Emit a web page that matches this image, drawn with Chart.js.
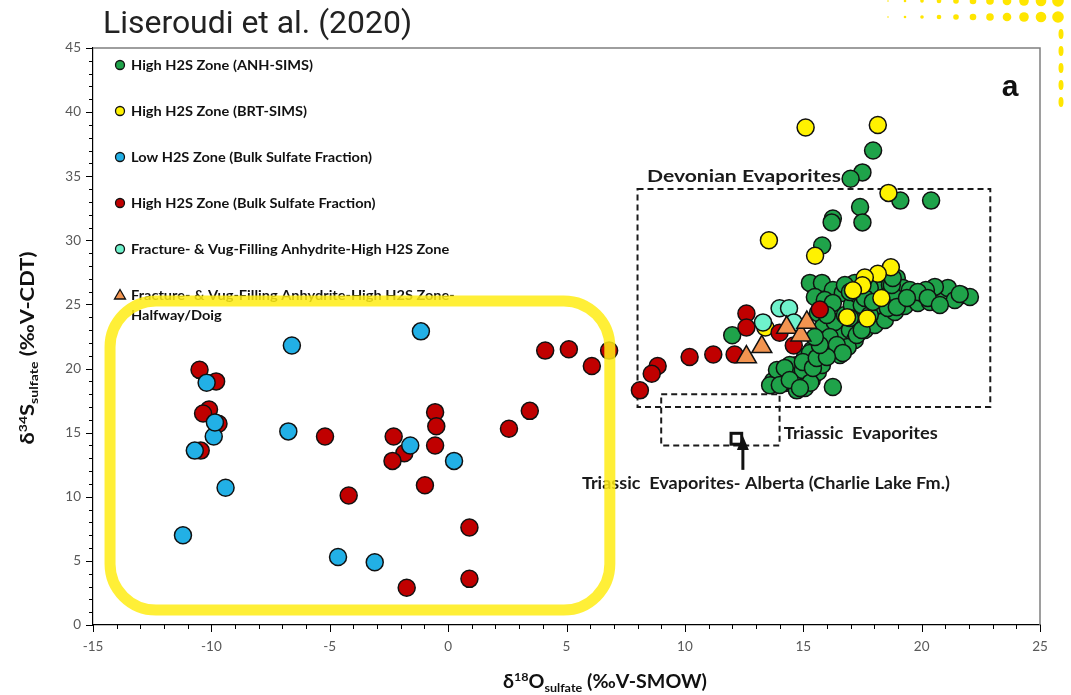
<!DOCTYPE html>
<html>
<head>
<meta charset="utf-8">
<script src="https://cdn.jsdelivr.net/npm/chart.js@4.4.1/dist/chart.umd.min.js"></script>
<style>
  html, body { margin: 0; padding: 0; background: #ffffff; }
  #wrap { position: relative; width: 1071px; height: 695px; }
  canvas { display: block; }
</style>
</head>
<body>
<div id="wrap"><canvas id="chart" width="1071" height="695"></canvas></div>
<script>
// δ18O (x) and δ34S (y) of sulfate, ‰
const anhSimsO18 = [17.95, 17.5, 17.0, 19.1, 20.4, 17.4, 17.5, 16.25, 16.2, 15.8, 12.0,
  13.72, 13.97, 14.22, 14.43, 14.65, 14.86, 15.07, 14.73, 15.19, 15.36, 15.62, 15.49, 15.79,
  16.04, 16.21, 15.91, 16.46, 16.76, 16.55, 16.97, 17.18, 17.39, 17.6, 17.81, 18.02, 18.23,
  18.45, 18.66, 18.87, 19.08, 19.29, 19.59, 19.84, 20.14, 20.35, 20.68, 20.85, 21.11, 21.7,
  22.04, 20.56, 20.18, 15.28, 15.79, 16.25, 16.67, 15.49, 15.91, 15.62, 16.12, 15.83, 16.33,
  16.76, 17.05, 17.31, 15.7, 15.36, 15.07, 16.97, 17.47, 17.9, 18.15, 18.66, 18.95, 19.21,
  19.5, 18.53, 17.81, 17.6, 17.18, 16.76, 18.23, 18.78, 19.84, 21.4, 16.25, 13.89, 14.43,
  14.98, 16.55, 16.88, 13.6, 14.73, 15.3,
  16.97, 16.25, 16.0, 16.12, 16.42, 16.67, 17.26, 17.47, 17.81, 18.57, 18.95, 17.94, 18.74,
  19.38, 20.26, 20.77, 21.61, 18.78, 15.28, 14.98, 14.22, 14.01, 14.43, 15.41, 15.57, 16.0,
  14.86, 15.7, 15.49];
const anhSimsS34 = [37.0, 35.3, 34.8, 33.1, 33.1, 32.6, 31.4, 31.7, 31.4, 29.6, 22.6,
  19.03, 19.27, 18.88, 19.5, 18.72, 19.27, 18.49, 20.28, 19.89, 19.11, 19.73, 20.67, 20.28,
  21.06, 21.84, 22.23, 21.45, 22.23, 22.62, 23.01, 22.23, 23.63, 23.01, 23.95, 23.4, 24.41,
  23.79, 24.96, 24.41, 25.35, 24.88, 25.51, 25.12, 25.74, 25.19, 26.13, 25.35, 26.29, 25.74,
  25.58, 26.37, 26.13, 26.68, 26.68, 26.13, 25.9, 25.58, 25.35, 24.34, 24.57, 23.24, 23.63,
  24.18, 24.96, 25.74, 22.23, 21.45, 20.9, 23.95, 24.96, 25.35, 26.13, 26.52, 27.07, 26.29,
  26.13, 25.58, 26.29, 25.51, 26.68, 26.52, 24.96, 25.74, 25.97, 25.35, 18.56, 19.89, 20.28,
  19.89, 21.06, 21.68, 18.7, 18.3, 18.9,
  25.97, 25.12, 24.18, 22.46, 21.84, 21.22, 22.62, 23.01, 24.18, 24.73, 24.8, 25.2, 26.52,
  25.51, 25.51, 24.96, 25.82, 27.07, 21.22, 20.51, 20.05, 18.72, 19.11, 20.05, 20.83, 20.9,
  18.49, 21.84, 22.46];

const brtSimsO18 = [15.1, 18.15, 13.55, 18.6, 15.5, 18.7, 18.15, 17.6, 17.5, 17.1, 18.3, 16.85, 17.7, 13.4];
const brtSimsS34 = [38.8, 39.0, 30.0, 33.7, 28.8, 27.9, 27.4, 27.1, 26.5, 26.1, 25.5, 24.0, 23.9, 23.2];

const lowBulkO18 = [-6.6, -1.15, -10.2, -9.9, -10.7, -9.85, -9.4, -11.2, -6.75, -4.65, -3.1, -1.6, 0.25];
const lowBulkS34 = [21.8, 22.9, 18.9, 14.7, 13.6, 15.8, 10.7, 7.0, 15.1, 5.3, 4.9, 14.0, 12.8];

const highBulkO18 = [-10.5, -9.8, -10.1, -10.35, -9.7, -10.45, -5.2, -4.2, -2.3, -1.85, -2.35,
  -0.55, -0.5, -0.55, -0.98, 0.9, -1.75, 0.9, 2.57, 3.45, 4.1, 5.1, 6.07, 6.8, 8.1, 8.85, 8.6,
  10.2, 11.2, 12.1, 12.6, 12.6, 15.7, 14.0, 14.6];
const highBulkS34 = [19.9, 19.0, 16.8, 16.5, 15.7, 13.6, 14.7, 10.1, 14.7, 13.4, 12.8,
  16.6, 15.5, 14.0, 10.9, 7.6, 2.9, 3.6, 15.3, 16.7, 21.4, 21.5, 20.2, 21.4, 18.3, 20.2, 19.6,
  20.9, 21.1, 21.1, 24.3, 23.2, 24.6, 22.8, 21.8];

const vugHighO18 = [13.3, 14.0, 14.4, 14.6];
const vugHighS34 = [23.6, 24.7, 24.7, 23.6];

const vugDoigO18 = [12.6, 13.25, 14.3, 14.9, 15.15];
const vugDoigS34 = [20.9, 21.7, 23.2, 22.6, 23.6];

const seriesNames = [
  'High H2S Zone (ANH-SIMS)',
  'High H2S Zone (BRT-SIMS)',
  'Low H2S Zone (Bulk Sulfate Fraction)',
  'High H2S Zone (Bulk Sulfate Fraction)',
  'Fracture- & Vug-Filling Anhydrite-High H2S Zone',
  'Fracture- & Vug-Filling Anhydrite-High H2S Zone-\nHalfway/Doig'
];
const seriesColors = ['#1fa34a', '#fff200', '#22b0e6', '#c00000', '#6ff2cc', '#f29450'];
const seriesShapes = ['circle', 'circle', 'circle', 'circle', 'circle', 'triangle'];

const xTicks = [-15, -10, -5, 0, 5, 10, 15, 20, 25];
const yTicks = [0, 5, 10, 15, 20, 25, 30, 35, 40, 45];

const toPoints = (xs, ys) => xs.map((x, i) => ({ x: x, y: ys[i] }));
const seriesData = [
  toPoints(anhSimsO18, anhSimsS34),
  toPoints(brtSimsO18, brtSimsS34),
  toPoints(lowBulkO18, lowBulkS34),
  toPoints(highBulkO18, highBulkS34),
  toPoints(vugHighO18, vugHighS34),
  toPoints(vugDoigO18, vugDoigS34)
];
// stacking: green lowest, triangles on top
const drawOrder = [5, 4, 2, 3, 1, 0];

const datasets = seriesData.map((pts, i) => ({
  label: seriesNames[i],
  data: pts,
  order: drawOrder[i],
  pointStyle: seriesShapes[i],
  pointRadius: seriesShapes[i] === 'triangle' ? 11.5 : 8.5,
  pointBackgroundColor: seriesColors[i],
  pointBorderColor: '#111111',
  pointBorderWidth: 1.5,
  showLine: false
}));

const FONT = 'Lato, "Open Sans", sans-serif';

// text stretched horizontally to a given width
function fillFitted(ctx, text, x, y, width) {
  const w = ctx.measureText(text).width;
  ctx.save();
  ctx.translate(x, y);
  ctx.scale(width / w, 1);
  ctx.fillText(text, 0, 0);
  ctx.restore();
}

// run of normal / super / sub pieces, centred on 0 and stretched to width
function drawRich(ctx, parts, baseSize, width) {
  let w = 0;
  parts.forEach(p => {
    ctx.font = 'bold ' + (p.size || baseSize) + 'px ' + FONT;
    p.w = ctx.measureText(p.t).width;
    w += p.w;
  });
  ctx.save();
  ctx.scale(width / w, 1);
  let x = -w / 2;
  parts.forEach(p => {
    ctx.font = 'bold ' + (p.size || baseSize) + 'px ' + FONT;
    ctx.fillText(p.t, x, p.dy || 0);
    x += p.w;
  });
  ctx.restore();
}

function roundRectPath(ctx, x0, y0, x1, y1, r) {
  ctx.beginPath();
  ctx.moveTo(x0 + r, y0);
  ctx.lineTo(x1 - r, y0);
  ctx.arcTo(x1, y0, x1, y0 + r, r);
  ctx.lineTo(x1, y1 - r);
  ctx.arcTo(x1, y1, x1 - r, y1, r);
  ctx.lineTo(x0 + r, y1);
  ctx.arcTo(x0, y1, x0, y1 - r, r);
  ctx.lineTo(x0, y0 + r);
  ctx.arcTo(x0, y0, x0 + r, y0, r);
  ctx.closePath();
}

const decorations = {
  id: 'decorations',
  beforeDatasetsDraw(chart) {
    const ctx = chart.ctx, xs = chart.scales.x, ys = chart.scales.y;
    const X = v => xs.getPixelForValue(v), Y = v => ys.getPixelForValue(v);
    ctx.save();
    ctx.strokeStyle = '#1a1a1a';
    ctx.lineWidth = 2;
    ctx.setLineDash([6, 4]);
    // Devonian evaporites field
    ctx.strokeRect(X(8.0), Y(34.0), X(22.9) - X(8.0), Y(17.0) - Y(34.0));
    // Triassic evaporites field
    ctx.strokeRect(X(9.0), Y(18.0), X(14.0) - X(9.0), Y(14.0) - Y(18.0));
    ctx.restore();
  },
  afterDraw(chart) {
    const ctx = chart.ctx, xs = chart.scales.x, ys = chart.scales.y;
    const X = v => xs.getPixelForValue(v), Y = v => ys.getPixelForValue(v);
    const a = chart.chartArea;
    ctx.save();

    // plot frame top / right
    ctx.strokeStyle = '#7f7f7f';
    ctx.lineWidth = 1.5;
    ctx.beginPath();
    ctx.moveTo(a.left, a.top); ctx.lineTo(a.right, a.top); ctx.lineTo(a.right, a.bottom);
    ctx.stroke();

    // minor / major tick marks
    ctx.strokeStyle = '#000000';
    ctx.lineWidth = 1;
    ctx.beginPath();
    for (let v = -15; v <= 25; v++) {
      const px = Math.round(X(v)) + 0.5;
      const len = v % 5 === 0 ? 7 : 4;
      ctx.moveTo(px, a.bottom); ctx.lineTo(px, a.bottom + len);
    }
    for (let v = 0; v <= 45; v++) {
      const py = Math.round(Y(v)) + 0.5;
      const len = v % 5 === 0 ? 7 : 4;
      ctx.moveTo(a.left, py); ctx.lineTo(a.left - len, py);
    }
    ctx.stroke();

    // axis titles
    ctx.fillStyle = '#111111';
    ctx.textBaseline = 'alphabetic';
    ctx.textAlign = 'left';
    ctx.save();
    ctx.translate(605, 688);
    drawRich(ctx, [
      { t: 'δ' }, { t: '18', size: 11.5, dy: -7 }, { t: 'O' }, { t: 'sulfate', size: 11.5, dy: 4 },
      { t: ' (‰V-SMOW)' }
    ], 18, 204);
    ctx.restore();
    ctx.save();
    ctx.translate(34, 348);
    ctx.rotate(-Math.PI / 2);
    drawRich(ctx, [
      { t: 'δ' }, { t: '34', size: 11.5, dy: -7 }, { t: 'S' }, { t: 'sulfate', size: 11.5, dy: 4 },
      { t: ' (‰V-CDT)' }
    ], 18, 193);
    ctx.restore();

    // field labels
    ctx.fillStyle = '#1a1a1a';
    ctx.textBaseline = 'middle';
    ctx.font = 'bold 17px ' + FONT;
    fillFitted(ctx, 'Devonian Evaporites', X(8.4), Y(35.0), 194);
    fillFitted(ctx, 'Triassic  Evaporites', X(14.18), Y(14.9), 154);
    fillFitted(ctx, 'Triassic  Evaporites- Alberta (Charlie Lake Fm.)', X(5.65), Y(11.0), 368);

    // Charlie Lake Fm. marker and pointer
    ctx.strokeStyle = '#111111';
    ctx.lineWidth = 3;
    ctx.setLineDash([]);
    ctx.strokeRect(X(11.95), Y(14.95), X(12.4) - X(11.95), Y(14.1) - Y(14.95));
    ctx.beginPath();
    ctx.moveTo(X(12.45), Y(12.1)); ctx.lineTo(X(12.45), Y(14.0));
    ctx.stroke();
    ctx.fillStyle = '#111111';
    ctx.beginPath();
    ctx.moveTo(X(12.45), Y(14.75));
    ctx.lineTo(X(12.45) - 6, Y(13.65));
    ctx.lineTo(X(12.45) + 6, Y(13.65));
    ctx.closePath();
    ctx.fill();

    // panel letter
    ctx.font = 'bold 30px "Liberation Sans", Arial, sans-serif';
    ctx.textAlign = 'center';
    ctx.fillText('a', 1010, 88);

    // legend
    ctx.textAlign = 'left';
    ctx.font = 'bold 14px ' + FONT;
    const stretch = 182 / ctx.measureText(seriesNames[0]).width;
    const rows = [65, 111, 157, 203, 249, 295];
    seriesNames.forEach((name, i) => {
      const cy = rows[i];
      ctx.fillStyle = seriesColors[i];
      ctx.strokeStyle = '#111111';
      ctx.lineWidth = 1.3;
      ctx.beginPath();
      if (seriesShapes[i] === 'triangle') {
        ctx.moveTo(120, cy - 5.5); ctx.lineTo(125.5, cy + 4); ctx.lineTo(114.5, cy + 4); ctx.closePath();
      } else {
        ctx.arc(120, cy, 4.5, 0, Math.PI * 2);
      }
      ctx.fill(); ctx.stroke();
      ctx.fillStyle = '#111111';
      name.split('\n').forEach((line, k) => {
        fillFitted(ctx, line, 131, cy + k * 20, ctx.measureText(line).width * stretch);
      });
    });

    // highlight frame around the low-δ18O samples
    ctx.strokeStyle = 'rgba(255, 236, 20, 0.85)';
    ctx.lineWidth = 11;
    roundRectPath(ctx, X(-14.28), Y(25.27), X(6.83), Y(1.17), 46);
    ctx.stroke();

    // title
    ctx.fillStyle = '#222222';
    ctx.font = '31px Roboto, sans-serif';
    ctx.textBaseline = 'middle';
    fillFitted(ctx, 'Liseroudi et al. (2020)', 103, 25, 309);

    // corner dot pattern
    ctx.fillStyle = '#ffe600';
    for (let k = 0; k < 11; k++) {
      const dx = 888 + k * 17;
      const r = 0.8 + k * 0.5;
      ctx.beginPath(); ctx.arc(dx, 17, r, 0, Math.PI * 2); ctx.fill();
      ctx.beginPath(); ctx.arc(dx, 1, r, 0, Math.PI * 2); ctx.fill();
    }
    for (let k = 0; k < 5; k++) {
      const dy = 34 + k * 17;
      ctx.beginPath(); ctx.ellipse(1061, dy, 2.5, 5, 0, 0, Math.PI * 2); ctx.fill();
    }
    ctx.restore();
  }
};

new Chart(document.getElementById('chart').getContext('2d'), {
  type: 'scatter',
  data: { datasets: datasets },
  options: {
    responsive: false,
    animation: false,
    events: [],
    layout: { padding: { left: 0, top: 48, right: 31, bottom: 0 } },
    plugins: { legend: { display: false }, tooltip: { enabled: false }, title: { display: false } },
    scales: {
      x: {
        type: 'linear', min: xTicks[0], max: xTicks[xTicks.length - 1],
        afterBuildTicks: s => { s.ticks = xTicks.map(v => ({ value: v })); },
        ticks: { font: { family: 'Lato', size: 13.5 }, color: '#595959', padding: 14 },
        grid: { display: false, drawTicks: false },
        border: { display: true, color: '#000000', width: 1.2 },
        afterFit: s => { s.height = 70; }
      },
      y: {
        type: 'linear', min: yTicks[0], max: yTicks[yTicks.length - 1],
        afterBuildTicks: s => { s.ticks = yTicks.map(v => ({ value: v })); },
        ticks: { font: { family: 'Lato', size: 13.5 }, color: '#595959', padding: 12 },
        grid: { display: false, drawTicks: false },
        border: { display: true, color: '#000000', width: 1.2 },
        afterFit: s => { s.width = 93; }
      }
    }
  },
  plugins: [decorations]
});
</script>
</body>
</html>
